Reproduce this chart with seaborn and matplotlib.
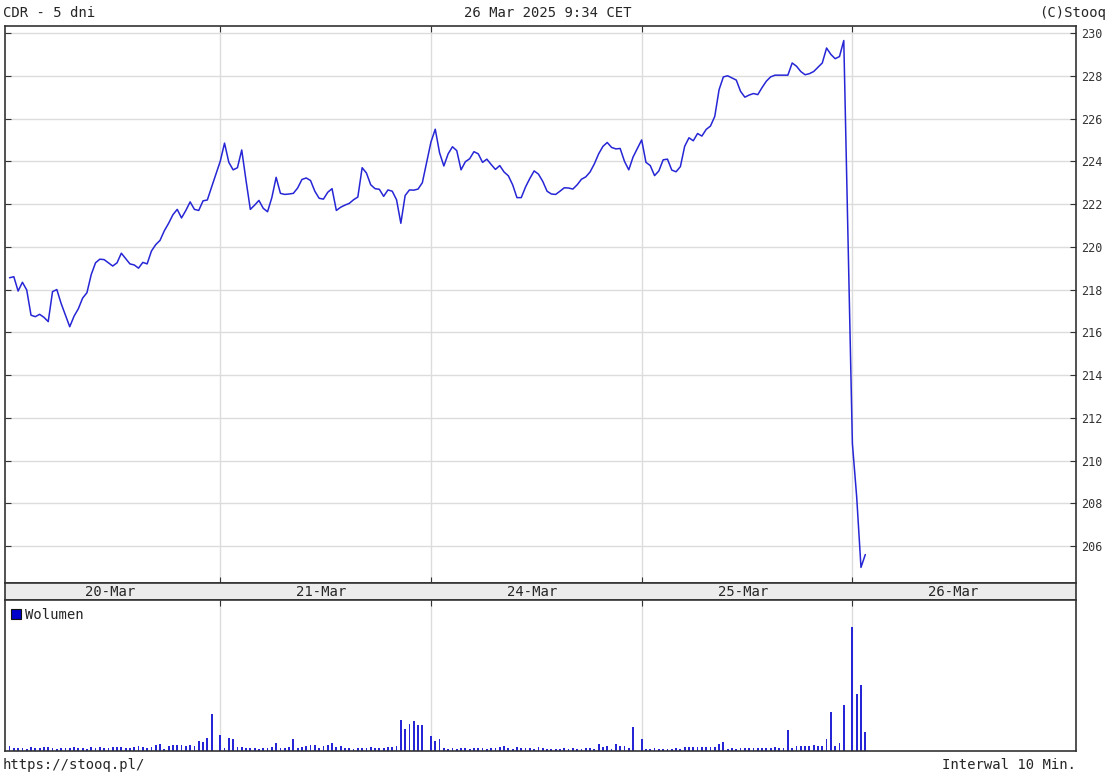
import numpy as np
import pandas as pd
import matplotlib
matplotlib.use("Agg")
import matplotlib.pyplot as plt
from matplotlib.patches import Patch
import seaborn as sns

# CDR, 10-minute bars, 5 sessions
DAYS = ["20-Mar", "21-Mar", "24-Mar", "25-Mar", "26-Mar"]
SLOTS = 49          # slots per session on the x axis (last one stays empty)

close_20 = [218.55, 218.6, 217.93, 218.34, 217.98, 216.8, 216.73, 216.84, 216.7, 216.5,
            217.9, 218.0, 217.35, 216.8, 216.26, 216.75, 217.1, 217.6, 217.85, 218.7,
            219.25, 219.42, 219.4, 219.25, 219.1, 219.25, 219.7, 219.45, 219.2, 219.15,
            219.0, 219.27, 219.2, 219.8, 220.1, 220.3, 220.75, 221.1, 221.5, 221.75,
            221.35, 221.7, 222.1, 221.75, 221.7, 222.15, 222.19, 222.8]
close_21 = [224.0, 224.85, 223.95, 223.6, 223.7, 224.53, 223.1, 221.75, 221.95, 222.17,
            221.8, 221.64, 222.3, 223.25, 222.5, 222.45, 222.47, 222.5, 222.75, 223.15,
            223.22, 223.1, 222.6, 222.27, 222.23, 222.55, 222.72, 221.7, 221.85, 221.95,
            222.03, 222.2, 222.33, 223.7, 223.45, 222.9, 222.72, 222.69, 222.36, 222.66,
            222.6, 222.2, 221.1, 222.4, 222.66, 222.65, 222.7, 223.0]
close_24 = [224.9, 225.5, 224.4, 223.78, 224.35, 224.68, 224.5, 223.6, 223.98, 224.12,
            224.45, 224.35, 223.95, 224.1, 223.85, 223.62, 223.8, 223.5, 223.32, 222.9,
            222.3, 222.3, 222.8, 223.2, 223.55, 223.4, 223.06, 222.6, 222.47, 222.45,
            222.6, 222.76, 222.75, 222.7, 222.9, 223.16, 223.27, 223.5, 223.88, 224.35,
            224.7, 224.88, 224.65, 224.58, 224.6, 224.0, 223.6, 224.2]
close_25 = [225.0, 223.95, 223.8, 223.33, 223.55, 224.07, 224.1, 223.59, 223.51, 223.75,
            224.7, 225.1, 224.96, 225.3, 225.18, 225.49, 225.65, 226.1, 227.35, 227.95,
            228.0, 227.9, 227.8, 227.27, 227.0, 227.1, 227.17, 227.12, 227.45, 227.75,
            227.95, 228.03, 228.03, 228.03, 228.03, 228.6, 228.45, 228.2, 228.05, 228.1,
            228.2, 228.4, 228.6, 229.3, 229.0, 228.8, 228.9, 229.65]
close_26 = [210.8, 208.3, 205.0, 205.6]

vol_20 = [5, 3, 3, 3, 2, 4, 3, 3, 4, 4, 3, 2, 3, 3, 3, 4, 3, 3, 2, 4,
          3, 4, 3, 3, 4, 4, 4, 3, 3, 4, 5, 4, 3, 4, 6, 7, 2, 5, 6, 6,
          6, 5, 6, 5, 10, 9, 13, 37]
vol_21 = [16, 3, 13, 12, 4, 4, 3, 3, 3, 2, 3, 3, 4, 8, 3, 3, 4, 12, 3, 4,
          5, 6, 6, 3, 5, 6, 8, 4, 5, 3, 3, 2, 3, 3, 3, 4, 3, 3, 3, 4,
          4, 5, 31, 22, 27, 30, 26, 26]
vol_24 = [15, 10, 12, 3, 2, 3, 2, 3, 3, 2, 3, 3, 3, 2, 3, 3, 4, 5, 3, 2,
          4, 3, 3, 3, 2, 4, 3, 2, 2, 2, 2, 3, 2, 3, 2, 2, 3, 3, 2, 7,
          4, 5, 2, 7, 5, 5, 3, 24]
vol_25 = [12, 2, 2, 3, 2, 2, 2, 2, 3, 2, 4, 4, 4, 4, 4, 4, 4, 4, 7, 9,
          2, 3, 2, 3, 3, 3, 3, 3, 3, 3, 3, 4, 3, 3, 21, 3, 5, 5, 5, 5,
          6, 5, 5, 12, 39, 5, 8, 46]
vol_26 = [124, 57, 66, 19]

closes = [close_20, close_21, close_24, close_25, close_26]
vols = [vol_20, vol_21, vol_24, vol_25, vol_26]

frames = []
for d, (c, v) in enumerate(zip(closes, vols)):
    frames.append(pd.DataFrame({"slot": d * SLOTS + np.arange(len(c)),
                                "close": c, "vol": v}))
df = pd.concat(frames, ignore_index=True)

sns.set_style("white")
plt.rcParams['font.family'] = ['DejaVu Sans Mono']

BLUE = '#2626d6'
GRID = '#dcdcdc'
FRAME = '#333333'
XMIN, XMAX = -1.05, 248.0
bounds = [SLOTS * d for d in range(1, 5)]

W, H = 1112, 781
fig = plt.figure(figsize=(W / 100, H / 100), dpi=100)
ax = fig.add_axes([5 / W, 1 - 583 / H, 1071 / W, 557 / H])
band = fig.add_axes([5 / W, 1 - 600 / H, 1071 / W, 17 / H])
axv = fig.add_axes([5 / W, 1 - 751 / H, 1071 / W, 151 / H])

# price panel
sns.lineplot(data=df, x="slot", y="close", ax=ax, color=BLUE, lw=1.1)
ax.set_xlim(XMIN, XMAX)
ax.set_ylim(204.27, 230.33)
ax.set_yticks(np.arange(206, 231, 2))
ax.yaxis.tick_right()
ax.tick_params(axis='y', direction='in', left=True, right=True, length=4,
               labelleft=False, labelright=True, labelsize=8.5, pad=4, colors=FRAME)
ax.set_xticks(bounds)
ax.tick_params(axis='x', direction='in', top=True, bottom=True, length=4,
               labelbottom=False, colors=FRAME)
ax.grid(True, color=GRID, lw=1)
ax.set_xlabel("")
ax.set_ylabel("")

# date band
band.set_facecolor('#ececec')
band.set_xlim(XMIN, XMAX)
band.set_ylim(0, 1)
band.set_yticks([])
band.set_xticks([])
for d, name in enumerate(DAYS):
    band.text(d * SLOTS + 23.5, 0.45, name, ha='center', va='center', fontsize=10)

# volume panel
axv.bar(df["slot"], df["vol"], width=0.42, color=BLUE, linewidth=0, antialiased=False)
axv.set_xlim(XMIN, XMAX)
axv.set_ylim(0, 151)
axv.set_yticks([])
axv.set_xticks(bounds)
axv.tick_params(axis='x', direction='in', top=True, bottom=False, length=4,
                labelbottom=False, colors=FRAME)
axv.grid(True, axis='x', color=GRID, lw=1)
axv.set_axisbelow(True)
axv.legend(handles=[Patch(facecolor='#0000cc', edgecolor='#111111', lw=0.8, label='Wolumen')],
           loc='upper left', frameon=False, fontsize=10, handlelength=0.7,
           handleheight=0.7, handletextpad=0.3, borderaxespad=0.1,
           bbox_to_anchor=(-0.001, 0.995))

for a in (ax, band, axv):
    for s in a.spines.values():
        s.set_color(FRAME)
        s.set_linewidth(1.2)

fig.text(3 / W, 1 - 13 / H, "CDR - 5 dni", ha='left', va='center', fontsize=10)
fig.text(548 / W, 1 - 13 / H, "26 Mar 2025 9:34 CET", ha='center', va='center', fontsize=10)
fig.text(1106 / W, 1 - 13 / H, "(C)Stooq", ha='right', va='center', fontsize=10)
fig.text(3 / W, 1 - 765 / H, "https://stooq.pl/", ha='left', va='center', fontsize=10)
fig.text(1076 / W, 1 - 765 / H, "Interwal 10 Min.", ha='right', va='center', fontsize=10)

fig.savefig("out.png", dpi=100)
